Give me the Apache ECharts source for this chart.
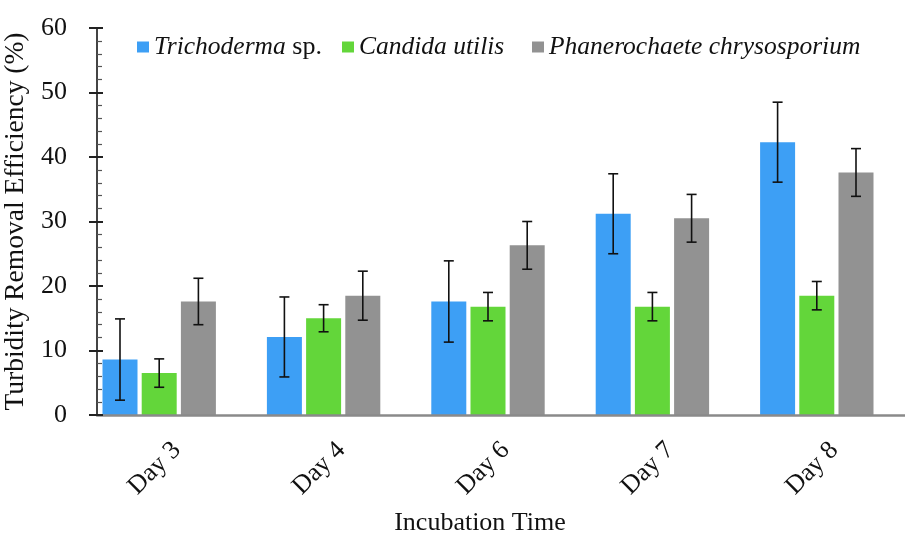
<!DOCTYPE html>
<html>
<head>
<meta charset="utf-8">
<script src="https://cdn.jsdelivr.net/npm/echarts@6/dist/echarts.min.js"></script>
<style>
  html, body { margin: 0; padding: 0; background: #fff; }
  #chart { width: 905px; height: 536px; }
</style>
</head>
<body>
<div id="chart"></div>
<script>
// turbidity removal by fungal strain
const days = ['Day 3', 'Day 4', 'Day 6', 'Day 7', 'Day 8'];
const seriesNames = ['Trichoderma sp.', 'Candida utilis', 'Phanerochaete chrysosporium'];
const trichoderma = [8.6, 12.1, 17.6, 31.2, 42.3];
const trichodermaErr = [6.3, 6.2, 6.3, 6.2, 6.2];
const candida = [6.5, 15.0, 16.8, 16.8, 18.5];
const candidaErr = [2.2, 2.1, 2.2, 2.2, 2.2];
const phanero = [17.6, 18.5, 26.3, 30.5, 37.6];
const phaneroErr = [3.6, 3.8, 3.7, 3.7, 3.7];
const yTicks = [0, 10, 20, 30, 40, 50, 60];

const colors = ['#3d9ff5', '#63d63a', '#929292'];
const FONT = '"Liberation Serif", "DejaVu Serif", serif';
const BAR_W = 35;
const BAR_GAP = 0.12;
// excel spaces the legend entries unevenly, so each gets its own legend box
const legendLeft = [137, 342, 532];

const chart = echarts.init(document.getElementById('chart'), null, { renderer: 'canvas' });

const values = [trichoderma, candida, phanero];
const errors = [trichodermaErr, candidaErr, phaneroErr];

function errorSeries(k) {
    const offset = (k - 1) * BAR_W * (1 + BAR_GAP);
    return {
        type: 'custom',
        name: seriesNames[k] + ' err',
        xAxisIndex: 0,
        yAxisIndex: 0,
        z: 4,
        data: days.map((d, i) => [i, values[k][i] - errors[k][i], values[k][i] + errors[k][i]]),
        renderItem: function (params, api) {
            const lo = api.coord([api.value(0), api.value(1)]);
            const hi = api.coord([api.value(0), api.value(2)]);
            const x = lo[0] + offset;
            const cap = 5;
            const style = { stroke: '#111', lineWidth: 1.6 };
            return {
                type: 'group',
                children: [
                    { type: 'line', shape: { x1: x, y1: lo[1], x2: x, y2: hi[1] }, style: style },
                    { type: 'line', shape: { x1: x - cap, y1: lo[1], x2: x + cap, y2: lo[1] }, style: style },
                    { type: 'line', shape: { x1: x - cap, y1: hi[1], x2: x + cap, y2: hi[1] }, style: style }
                ]
            };
        }
    };
}

const barSeries = seriesNames.map((name, k) => ({
    type: 'bar',
    name: name,
    xAxisIndex: 0,
    yAxisIndex: 0,
    data: values[k],
    barWidth: BAR_W,
    barGap: (BAR_GAP * 100) + '%',
    itemStyle: { color: colors[k] }
}));

const legends = seriesNames.map((name, k) => ({
    data: [name],
    left: legendLeft[k],
    top: 34,
    padding: 0,
    icon: 'rect',
    itemWidth: 12,
    itemHeight: 11,
    formatter: function (n) {
        return n.endsWith(' sp.') ? '{i|' + n.slice(0, -4) + '} sp.' : '{i|' + n + '}';
    },
    textStyle: {
        fontFamily: FONT,
        fontSize: 26,
        color: '#111',
        rich: {
            i: { fontFamily: FONT, fontSize: 25.5, fontStyle: 'italic', color: '#111' }
        }
    }
}));

const option = {
    animation: false,
    backgroundColor: '#fff',
    color: colors,
    legend: legends,
    grid: [
        { left: 77, right: 6, top: 28, bottom: 121, outerBoundsMode: 'none', containLabel: false },
        { left: 97, right: 0, top: 28, bottom: 121, outerBoundsMode: 'none', containLabel: false }
    ],
    xAxis: [
        {
            type: 'category',
            gridIndex: 0,
            data: days,
            axisLine: { show: false },
            axisTick: { show: false },
            axisLabel: {
                rotate: 45,
                margin: 49,
                padding: [0, -25, 0, 0],
                fontFamily: FONT,
                fontSize: 26,
                color: '#111'
            },
            name: 'Incubation Time',
            nameLocation: 'middle',
            nameGap: 95,
            nameTextStyle: { fontFamily: FONT, fontSize: 26, color: '#111', padding: [0, 16, 0, 0] }
        },
        {
            type: 'value',
            gridIndex: 1,
            min: 0,
            max: 1,
            z: 5,
            axisLine: { show: true, lineStyle: { color: '#8a8a8a', width: 2.5 } },
            axisTick: { show: false },
            axisLabel: { show: false },
            splitLine: { show: false }
        }
    ],
    yAxis: [
        { type: 'value', gridIndex: 0, min: yTicks[0], max: yTicks[yTicks.length - 1], show: false },
        {
            type: 'value',
            gridIndex: 1,
            min: yTicks[0],
            max: yTicks[yTicks.length - 1],
            interval: yTicks[1] - yTicks[0],
            z: 6,
            axisLine: { show: true, lineStyle: { color: '#444', width: 2 } },
            axisTick: { show: true, length: 8, lineStyle: { color: '#222', width: 2 } },
            axisLabel: { margin: 30, fontFamily: FONT, fontSize: 26, color: '#111' },
            splitLine: { show: false },
            name: 'Turbidity Removal Efficiency (%)',
            nameLocation: 'middle',
            nameGap: 57,
            nameTextStyle: { fontFamily: FONT, fontSize: 27.5, color: '#111' }
        },
        {
            type: 'value',
            gridIndex: 1,
            position: 'left',
            offset: 0,
            min: yTicks[0],
            max: yTicks[yTicks.length - 1],
            interval: yTicks[1] - yTicks[0],
            z: 6,
            axisLine: { show: false },
            axisTick: { show: true, inside: true, length: 6, lineStyle: { color: '#222', width: 2 } },
            minorTick: { show: true, splitNumber: 5, length: 5, lineStyle: { color: '#555', width: 1.2 } },
            axisLabel: { show: false },
            splitLine: { show: false }
        }
    ],
    series: barSeries.concat([0, 1, 2].map(errorSeries))
};

chart.setOption(option);
</script>
</body>
</html>
